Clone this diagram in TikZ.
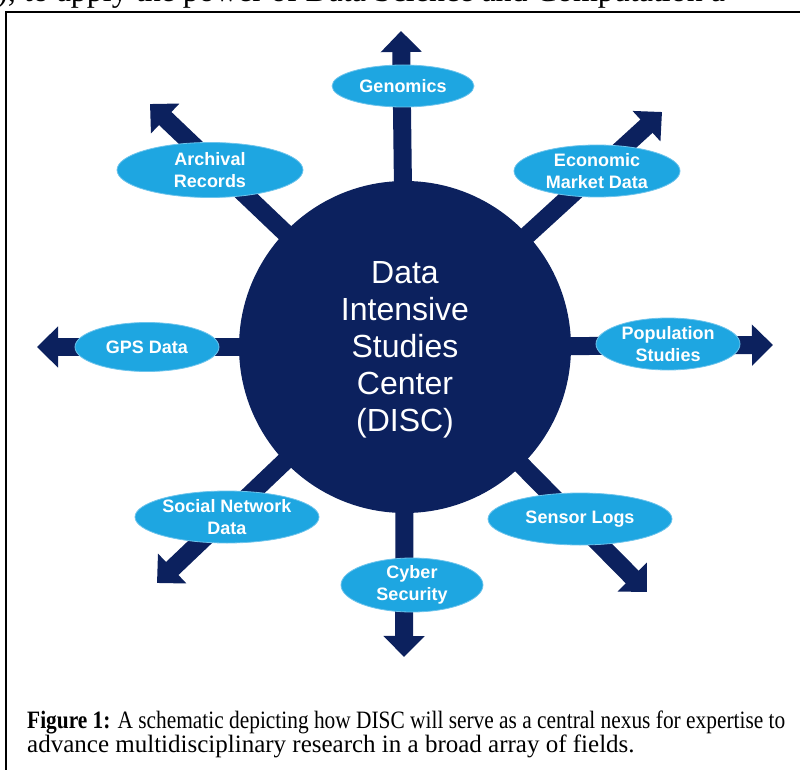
\documentclass[tikz,border=0pt]{standalone}
\usepackage{fontspec}
\setmainfont{Liberation Serif}
\setsansfont{Liberation Sans}
\usetikzlibrary{arrows.meta,shapes.geometric}

\definecolor{navy}{RGB}{12,33,94}
\definecolor{sky}{RGB}{30,166,225}
\definecolor{skyrim}{RGB}{110,196,236}

\tikzset{
  spoke/.style={draw=navy, line width=18pt,
    -{Triangle[width=40pt,length=21pt]}},
  field/.style={ellipse, fill=sky, draw=skyrim, line width=0.8pt,
    inner sep=0pt},
  fieldtext/.style={text=white, align=center,
    font=\sffamily\bfseries\fontsize{18}{22}\selectfont},
  hubnode/.style={circle, fill=navy, minimum size=332pt, inner sep=0pt},
  hubtext/.style={text=white, align=center,
    font=\sffamily\fontsize{32}{37}\selectfont},
  captext/.style={anchor=base west, inner sep=0pt,
    font=\fontsize{25}{28}\selectfont},
  frame/.style={draw=black, line width=2.4pt},
}

\begin{document}
\begin{tikzpicture}[x=1pt, y=-1pt]
  \useasboundingbox (0,0) rectangle (800,770);
  \clip (0,0) rectangle (800,770);

  % running text above the framed figure
  \node[anchor=base west, inner sep=0pt, font=\fontsize{32}{36}\selectfont]
    (runon) at (-3,1.5) {), to apply the power of Data Science and Computation a};

  % figure frame
  \draw[frame] (6,780) -- (6,12) -- (810,12);

  % hub and arrow tips
  \coordinate (hub) at (405,347);
  \coordinate (tipGen) at (401,31);
  \coordinate (tipEco) at (662,112);
  \coordinate (tipPop) at (773,345);
  \coordinate (tipSen) at (647,592);
  \coordinate (tipCyb) at (404,657);
  \coordinate (tipSoc) at (157,583);
  \coordinate (tipGps) at (37,347);
  \coordinate (tipArc) at (150,104);

  % spokes radiating from the hub
  \foreach \t in {tipGen,tipEco,tipPop,tipSen,tipCyb,tipSoc,tipGps,tipArc}
    \draw[spoke] (hub) -- (\t);

  % central circle
  \node[hubnode] (disc) at (hub) {};
  \node[hubtext] (disctext) at (405,350) {Data\\Intensive\\Studies\\Center\\(DISC)};

  % research fields
  \node[field, minimum width=142pt, minimum height=42pt,
        label={[fieldtext]center:Genomics}] (gen) at (403,86) {};
  \node[field, minimum width=186pt, minimum height=55pt,
        label={[fieldtext]center:{Archival\\Records}}] (arc) at (210,170) {};
  \node[field, minimum width=166pt, minimum height=52pt,
        label={[fieldtext]center:{Economic\\Market Data}}] (eco) at (597,171) {};
  \node[field, minimum width=144pt, minimum height=49pt,
        label={[fieldtext]center:GPS Data}] (gps) at (147,347) {};
  \node[field, minimum width=144pt, minimum height=52pt,
        label={[fieldtext]center:{Population\\Studies}}] (pop) at (668,344) {};
  \node[field, minimum width=184pt, minimum height=52pt,
        label={[fieldtext]center:{Social Network\\Data}}] (soc) at (227,517) {};
  \node[field, minimum width=142pt, minimum height=54pt,
        label={[fieldtext]center:{Cyber\\Security}}] (cyb) at (412,585) {};
  \node[field, minimum width=184pt, minimum height=52pt,
        label={[fieldtext]center:Sensor Logs}] (sen) at (580,519) {};

  % caption (first line set tight to fit the frame)
  \node[captext] (cap1) at (27,728)
    {\resizebox{758pt}{\height}{\textbf{Figure 1:} A schematic depicting how DISC will serve as a central nexus for expertise to}};
  \node[captext] (cap2) at (27,752)
    {advance multidisciplinary research in a broad array of fields.};
\end{tikzpicture}
\end{document}
